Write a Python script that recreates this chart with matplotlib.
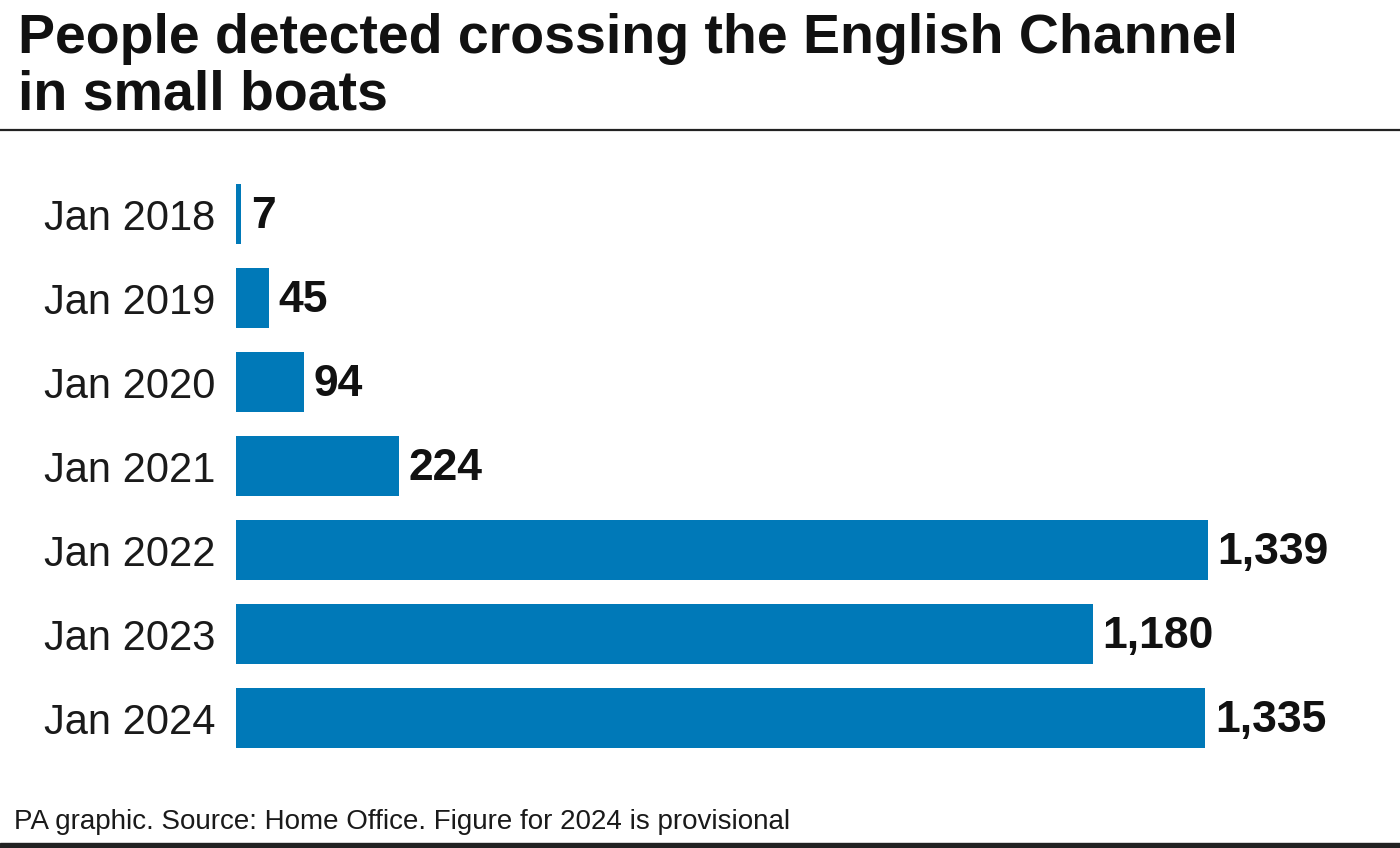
import matplotlib
matplotlib.use('Agg')
import matplotlib.pyplot as plt

# January small-boat arrivals
months = ['Jan 2018', 'Jan 2019', 'Jan 2020', 'Jan 2021', 'Jan 2022', 'Jan 2023', 'Jan 2024']
people = [7, 45, 94, 224, 1339, 1180, 1335]

W, H = 1400, 848
blue = '#0079b8'
plt.rcParams['font.family'] = ['Liberation Sans', 'DejaVu Sans']

fig = plt.figure(figsize=(W/100, H/100), dpi=100)

# axes placed in pixel terms: bars start at x=236, bar tops from y=172 to 760
ax = fig.add_axes([236/W, 1-760/H, (1208-236)/W, (760-172)/H])
y = range(len(months))
ax.barh(y, people, height=60/84, color=blue)
ax.set_xlim(0, max(people))
ax.set_ylim(len(months)-0.5, -0.5)
ax.set_yticks(list(y))
ax.set_yticklabels(months, fontsize=30, color='#1a1a1a')
ax.tick_params(axis='y', length=0, pad=15)
ax.set_xticks([])
for s in ax.spines.values():
    s.set_visible(False)

for i, v in enumerate(people):
    ax.annotate(f'{v:,}', (v, i), xytext=(7, -2), textcoords='offset points',
                va='center', ha='left', fontsize=32, fontweight='bold',
                color='#111111', clip_on=False)

fig.text(18/W, 1-13/H, 'People detected crossing the English Channel\nin small boats',
         ha='left', va='top', fontsize=40, fontweight='bold', color='#111111',
         linespacing=1.1)
fig.add_artist(plt.Line2D([0, 1], [1-130/H, 1-130/H], color='#222222', lw=1.6))

fig.text(14/W, 1-822/H, 'PA graphic. Source: Home Office. Figure for 2024 is provisional',
         ha='left', va='center', fontsize=20, color='#1a1a1a')
fig.add_artist(plt.Rectangle((0, 0), 1, 5/H, color='#222222', transform=fig.transFigure))

fig.savefig('out.png', dpi=100)
